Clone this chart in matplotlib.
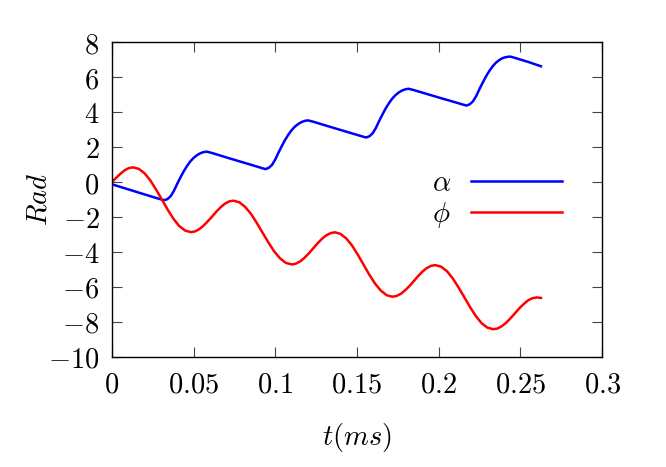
import matplotlib
matplotlib.use("Agg")
import matplotlib.pyplot as plt

# ---- data ----
t_alpha = [0.000, 0.010, 0.020, 0.028, 0.030, 0.032,
           0.034, 0.036, 0.038, 0.040, 0.042, 0.044, 0.046, 0.048, 0.050, 0.052, 0.054, 0.056, 0.058,
           0.061, 0.070, 0.080, 0.090, 0.092, 0.094,
           0.096, 0.098, 0.100, 0.102, 0.104, 0.106, 0.108, 0.110, 0.112, 0.114, 0.116, 0.118, 0.120,
           0.123, 0.130, 0.140, 0.150, 0.154, 0.1556,
           0.1576, 0.1596, 0.1616, 0.1636, 0.1656, 0.1676, 0.1696, 0.1716, 0.1736, 0.1756, 0.1776, 0.1796, 0.1816,
           0.1846, 0.190, 0.200, 0.210, 0.215, 0.217,
           0.219, 0.221, 0.223, 0.225, 0.227, 0.229, 0.231, 0.233, 0.235, 0.237, 0.239, 0.241, 0.243, 0.244,
           0.247, 0.255, 0.2626]
alpha = [-0.12, -0.41, -0.70, -0.93, -0.98, -1.03,
         -0.97, -0.80, -0.49, -0.09, 0.28, 0.63, 0.93, 1.19, 1.39, 1.54, 1.65, 1.72, 1.75,
         1.68, 1.42, 1.14, 0.86, 0.80, 0.75,
         0.82, 0.99, 1.30, 1.70, 2.07, 2.42, 2.72, 2.98, 3.18, 3.33, 3.44, 3.51, 3.54,
         3.47, 3.27, 2.99, 2.71, 2.60, 2.56,
         2.63, 2.80, 3.11, 3.51, 3.88, 4.23, 4.53, 4.79, 4.99, 5.14, 5.25, 5.32, 5.35,
         5.28, 5.13, 4.85, 4.58, 4.44, 4.39,
         4.46, 4.63, 4.94, 5.34, 5.71, 6.06, 6.37, 6.63, 6.84, 6.99, 7.10, 7.16, 7.19, 7.19,
         7.11, 6.88, 6.64]

t_phi = [0.0000, 0.0026, 0.0052, 0.0078, 0.0104, 0.0130,
         0.0165, 0.0201, 0.0236, 0.0271, 0.0307, 0.0342, 0.0377, 0.0412, 0.0448, 0.0483,
         0.0509, 0.0535, 0.0561, 0.0587, 0.0614, 0.0640, 0.0666, 0.0692, 0.0718, 0.0744,
         0.0780, 0.0815, 0.0851, 0.0886, 0.0922, 0.0958, 0.0993, 0.1029, 0.1064, 0.1100,
         0.1126, 0.1153, 0.1179, 0.1206, 0.1232, 0.1258, 0.1285, 0.1311, 0.1338, 0.1364,
         0.1399, 0.1434, 0.1470, 0.1505, 0.1540, 0.1575, 0.1610, 0.1646, 0.1681, 0.1716,
         0.1742, 0.1769, 0.1795, 0.1822, 0.1848, 0.1874, 0.1901, 0.1927, 0.1954, 0.1980,
         0.2015, 0.2051, 0.2086, 0.2121, 0.2157, 0.2192, 0.2227, 0.2262, 0.2298, 0.2333,
         0.2360, 0.2386, 0.2413, 0.2440, 0.2467, 0.2493, 0.2520, 0.2547, 0.2573, 0.2600, 0.2626]
phi = [0.00, 0.25, 0.48, 0.68, 0.81, 0.85,
       0.76, 0.50, 0.09, -0.43, -1.01, -1.58, -2.10, -2.51, -2.77, -2.86,
       -2.82, -2.69, -2.49, -2.24, -1.96, -1.68, -1.43, -1.23, -1.10, -1.06,
       -1.15, -1.41, -1.81, -2.32, -2.89, -3.45, -3.96, -4.36, -4.62, -4.71,
       -4.67, -4.53, -4.33, -4.07, -3.79, -3.51, -3.25, -3.05, -2.92, -2.87,
       -2.96, -3.22, -3.63, -4.15, -4.72, -5.29, -5.80, -6.21, -6.47, -6.56,
       -6.52, -6.39, -6.19, -5.94, -5.66, -5.38, -5.12, -4.92, -4.79, -4.75,
       -4.84, -5.10, -5.51, -6.02, -6.59, -7.15, -7.66, -8.07, -8.33, -8.42,
       -8.38, -8.25, -8.05, -7.79, -7.51, -7.23, -6.98, -6.77, -6.65, -6.60, -6.63]

x_ticks = [0, 0.05, 0.1, 0.15, 0.2, 0.25, 0.3]
x_ticklabels = [r"$0$", r"$0.05$", r"$0.1$", r"$0.15$", r"$0.2$", r"$0.25$", r"$0.3$"]
y_ticks = [-10, -8, -6, -4, -2, 0, 2, 4, 6, 8]
y_ticklabels = [r"$-10$", r"$-8$", r"$-6$", r"$-4$", r"$-2$", r"$0$", r"$2$", r"$4$", r"$6$", r"$8$"]

plt.rcParams["mathtext.fontset"] = "cm"
FS = 20.5

fig = plt.figure(figsize=(6.66, 4.67), dpi=100)
ax = fig.add_axes([0.168, 0.236, 0.736, 0.673])

ax.plot(t_alpha, alpha, color="#0000ff", lw=1.8, label=r"$\alpha$")
ax.plot(t_phi, phi, color="#ff0000", lw=1.8, label=r"$\phi$")

ax.set_xlim(0, 0.3)
ax.set_ylim(-10, 8)
ax.set_xticks(x_ticks)
ax.set_xticklabels(x_ticklabels, fontsize=FS)
ax.set_yticks(y_ticks)
ax.set_yticklabels(y_ticklabels, fontsize=FS)
ax.tick_params(direction="in", length=7, width=0.8, color="#444444", top=True, right=True,
               labeltop=False, labelright=False)
ax.tick_params(axis="x", pad=10)
ax.tick_params(axis="y", pad=9)
for s in ax.spines.values():
    s.set_linewidth(1.0)

ax.set_xlabel(r"$t(ms)$", fontsize=FS, labelpad=16)
ax.set_ylabel(r"$Rad$", fontsize=FS, labelpad=-3)

leg = ax.legend(loc="center right", bbox_to_anchor=(0.918, 0.5), frameon=False,
                markerfirst=False, fontsize=FS, handlelength=3.2, handletextpad=0.7,
                labelspacing=0.1, borderpad=0, borderaxespad=0)

fig.savefig("out.png", dpi=100)
